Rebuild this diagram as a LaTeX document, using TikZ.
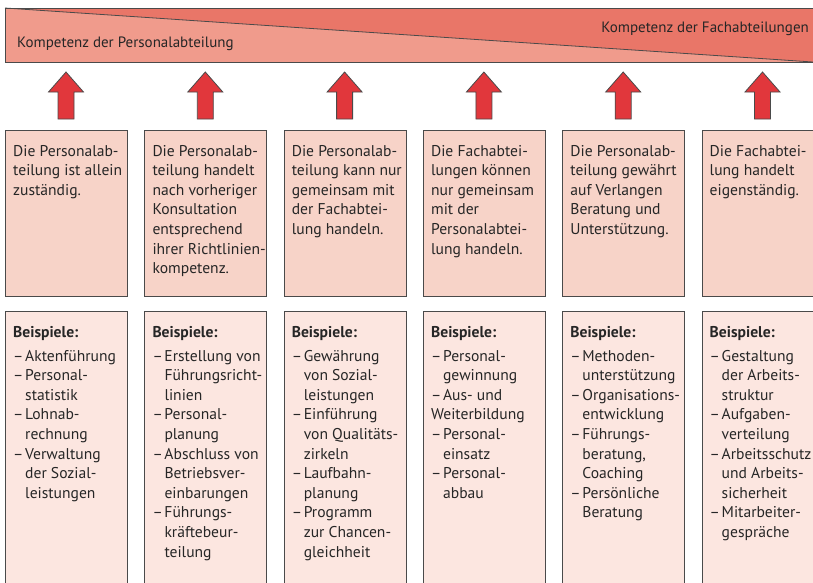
\documentclass[tikz,border=0pt]{standalone}
\usepackage{fontspec}
\setmainfont{PT Sans}
\usetikzlibrary{calc}

\definecolor{barlight}{HTML}{F09B8C}
\definecolor{bardark}{HTML}{E97668}
\definecolor{upperfill}{HTML}{F7D3C8}
\definecolor{lowerfill}{HTML}{FCE6E0}
\definecolor{arrowred}{HTML}{E1373C}
\definecolor{edgegray}{HTML}{4A4A4A}
\definecolor{textcol}{HTML}{262626}

\newcommand\lstdash{\makebox[12pt][l]{–}}
\newcommand\lstind{\hspace*{12pt}}

\tikzset{
  edge/.style={draw=edgegray, line width=0.8pt},
  upperbox/.style={edge, fill=upperfill, rectangle, inner sep=0pt,
    minimum width=122pt, minimum height=166pt, anchor=north west},
  lowerbox/.style={edge, fill=lowerfill, rectangle, inner sep=0pt,
    minimum width=122pt, minimum height=300pt, anchor=north west},
  uparrow/.style={edge, fill=arrowred, line join=miter},
  title/.style={font=\fontsize{15}{18}\selectfont, text=textcol, inner sep=0pt},
  txt/.style={font=\fontsize{15.6}{19.6}\selectfont, text=textcol, inner sep=0pt, anchor=base west},
}

\begin{document}
\begin{tikzpicture}[x=1pt,y=-1pt]
\useasboundingbox (0,0) rectangle (813,582);
\clip (0,0) rectangle (813,582);

% competence bar with the dividing diagonal
\fill[barlight] (5,8) rectangle (830,62);
\fill[bardark] (5,8) -- (830,8) -- (830,62) -- (813,62) -- cycle;
\draw[edge] (5,8) -- (813,62);
\draw[edge] (830,8) -- (5,8) -- (5,62) -- (830,62);
\node[title, anchor=base west] (pa) at (17,47) {Kompetenz der Personalabteilung};
\node[title, anchor=base east] (fa) at (809,32) {Kompetenz der Fachabteilungen};

% boxes and arrows of the six columns
\foreach \i in {1,...,6} {
  \pgfmathsetmacro\xl{5+139.3*(\i-1)}
  \pgfmathsetmacro\cx{\xl+61}
  \node[upperbox] (u\i) at (\xl,130) {};
  \node[lowerbox] (l\i) at (\xl,311) {};
  \draw[uparrow] (\cx,72) -- (\cx+17.5,92) -- (\cx+8,92) -- (\cx+8,119)
    -- (\cx-8,119) -- (\cx-8,92) -- (\cx-17.5,92) -- cycle;
}

% upper texts
\node[txt] (ut1) at ($(u1.north west)+(8,26)$) {\parbox[t]{118pt}{\raggedright
  Die Personalab-\\teilung ist allein\\zuständig.}};
\node[txt] (ut2) at ($(u2.north west)+(8,26)$) {\parbox[t]{118pt}{\raggedright
  Die Personalab-\\teilung handelt\\nach vorheriger\\Konsultation\\entsprechend\\ihrer Richtlinien-\\kompetenz.}};
\node[txt] (ut3) at ($(u3.north west)+(8,26)$) {\parbox[t]{118pt}{\raggedright
  Die Personalab-\\teilung kann nur\\gemeinsam mit\\der Fachabtei-\\lung handeln.}};
\node[txt] (ut4) at ($(u4.north west)+(8,26)$) {\parbox[t]{118pt}{\raggedright
  Die Fachabtei-\\lungen können\\nur gemeinsam\\mit der\\Personalabtei-\\lung handeln.}};
\node[txt] (ut5) at ($(u5.north west)+(8,26)$) {\parbox[t]{118pt}{\raggedright
  Die Personalab-\\teilung gewährt\\auf Verlangen\\Beratung und\\Unterstützung.}};
\node[txt] (ut6) at ($(u6.north west)+(8,26)$) {\parbox[t]{118pt}{\raggedright
  Die Fachabtei-\\lung handelt\\eigenständig.}};

% lower texts
\node[txt] (lt1) at ($(l1.north west)+(8,26)$) {\parbox[t]{118pt}{\raggedright
  \textbf{Beispiele:}\\[4.5pt]
  \lstdash Aktenführung\\
  \lstdash Personal-\\\lstind statistik\\
  \lstdash Lohnab-\\\lstind rechnung\\
  \lstdash Verwaltung\\\lstind der Sozial-\\\lstind leistungen}};
\node[txt] (lt2) at ($(l2.north west)+(8,26)$) {\parbox[t]{118pt}{\raggedright
  \textbf{Beispiele:}\\[4.5pt]
  \lstdash Erstellung von\\\lstind Führungsricht-\\\lstind linien\\
  \lstdash Personal-\\\lstind planung\\
  \lstdash Abschluss von\\\lstind Betriebsver-\\\lstind einbarungen\\
  \lstdash Führungs-\\\lstind kräftebeur-\\\lstind teilung}};
\node[txt] (lt3) at ($(l3.north west)+(8,26)$) {\parbox[t]{118pt}{\raggedright
  \textbf{Beispiele:}\\[4.5pt]
  \lstdash Gewährung\\\lstind von Sozial-\\\lstind leistungen\\
  \lstdash Einführung\\\lstind von Qualitäts-\\\lstind zirkeln\\
  \lstdash Laufbahn-\\\lstind planung\\
  \lstdash Programm\\\lstind zur Chancen-\\\lstind gleichheit}};
\node[txt] (lt4) at ($(l4.north west)+(8,26)$) {\parbox[t]{118pt}{\raggedright
  \textbf{Beispiele:}\\[4.5pt]
  \lstdash Personal-\\\lstind gewinnung\\
  \lstdash Aus- und\\Weiterbildung\\
  \lstdash Personal-\\\lstind einsatz\\
  \lstdash Personal-\\\lstind abbau}};
\node[txt] (lt5) at ($(l5.north west)+(8,26)$) {\parbox[t]{118pt}{\raggedright
  \textbf{Beispiele:}\\[4.5pt]
  \lstdash Methoden-\\\lstind unterstützung\\
  \lstdash Organisations-\\\lstind entwicklung\\
  \lstdash Führungs-\\\lstind beratung,\\\lstind Coaching\\
  \lstdash Persönliche\\\lstind Beratung}};
\node[txt] (lt6) at ($(l6.north west)+(8,26)$) {\parbox[t]{118pt}{\raggedright
  \textbf{Beispiele:}\\[4.5pt]
  \lstdash Gestaltung\\\lstind der Arbeits-\\\lstind struktur\\
  \lstdash Aufgaben-\\\lstind verteilung\\
  \lstdash Arbeitsschutz\\\lstind und Arbeits-\\\lstind sicherheit\\
  \lstdash Mitarbeiter-\\\lstind gespräche}};
\end{tikzpicture}
\end{document}
